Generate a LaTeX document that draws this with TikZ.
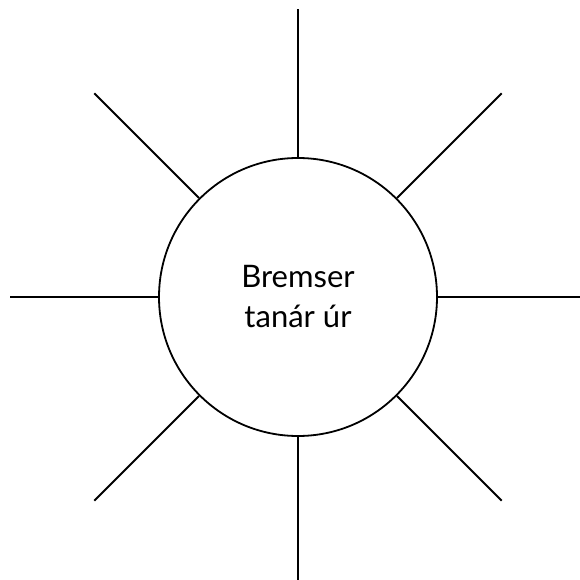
\documentclass[tikz,border=0pt]{standalone}
\usepackage{fontspec}
\setmainfont{Lato}
\usetikzlibrary{positioning,calc}
\tikzset{
  spoke/.style={line width=1.8pt},
}

\begin{document}
\begin{tikzpicture}[
  x=1pt,y=1pt,
  hub/.style={draw, circle, line width=1.8pt, minimum size=278pt, inner sep=0pt, align=center,
    font=\fontsize{31}{40}\selectfont}
]
\useasboundingbox (0,0) rectangle (579,-580);

\node[hub] (teacher) at (298,-297) {Bremser\\tanár úr};

% spokes round the circle
\foreach \ang in {0,45,...,315} {
  \coordinate (tip\ang) at ($(teacher.center)+(\ang:288)$);
  \draw[spoke] (teacher.\ang) -- (tip\ang);
}

\end{tikzpicture}
\end{document}
